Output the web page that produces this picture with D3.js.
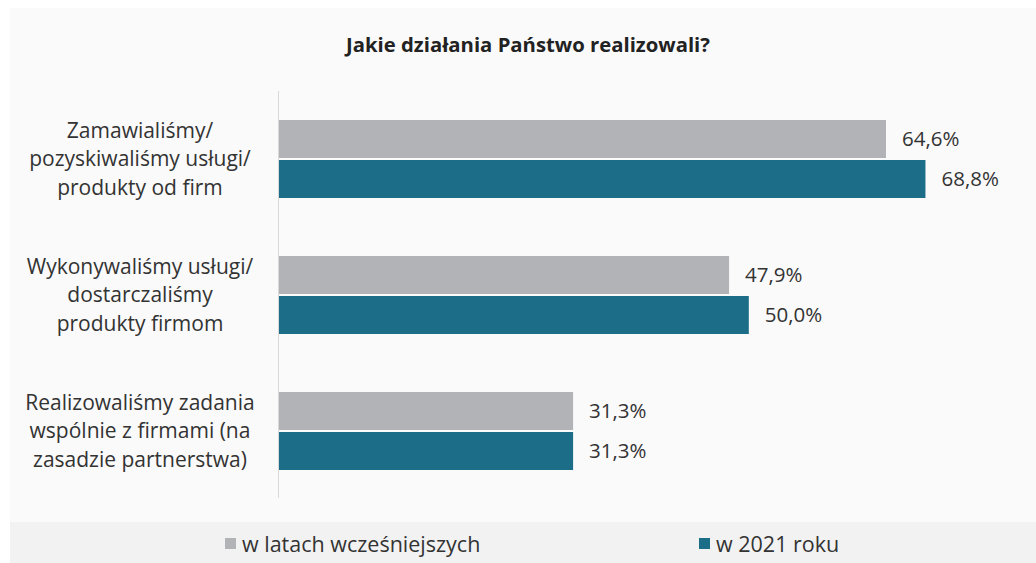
<!DOCTYPE html>
<html><head><meta charset="utf-8">
<script src="https://cdn.jsdelivr.net/npm/d3@7"></script>
<style>html,body{margin:0;padding:0;background:#fff;}svg{display:block;}</style>
</head><body>
<script>
const title = "Jakie działania Państwo realizowali?";
const categories = [
  ["Zamawialiśmy/", "pozyskiwaliśmy usługi/", "produkty od firm"],
  ["Wykonywaliśmy usługi/", "dostarczaliśmy", "produkty firmom"],
  ["Realizowaliśmy zadania", "wspólnie z firmami (na", "zasadzie partnerstwa)"]
];
const seriesNames = ["w latach wcześniejszych", "w 2021 roku"];
const earlier = [64.6, 47.9, 31.3];
const y2021 = [68.8, 50.0, 31.3];
const colors = ["#b2b3b7", "#1b6d88"];

const W = 1036, H = 563;
const svg = d3.select("body").append("svg").attr("width", W).attr("height", H);
svg.append("rect").attr("x",10).attr("y",8).attr("width",W-10).attr("height",514).attr("fill","#fafafa");
svg.append("rect").attr("x",10).attr("y",522).attr("width",W-10).attr("height",H-522).attr("fill","#f2f2f2");

const font = "'Open Sans', sans-serif";
svg.append("text").attr("x",528).attr("y",52).attr("text-anchor","middle")
  .attr("font-family",font).attr("font-weight","bold").attr("font-size",20.3).attr("fill","#222")
  .text(title);

const idx = d3.range(categories.length);
const x = d3.scaleLinear().domain([0, 70]).range([279, 279 + 70*9.396]);
const y = d3.scaleBand().domain(idx).range([91, 499]).paddingInner(58/136).paddingOuter(29/136);
const ys = d3.scaleBand().domain([0,1]).range([0, y.bandwidth()]).paddingInner(0.05);

const data = [earlier, y2021];
const g = svg.append("g");
idx.forEach(i => {
  data.forEach((vals, s) => {
    const v = vals[i];
    g.append("rect").attr("x", x(0)).attr("y", y(i) + ys(s))
      .attr("width", x(v) - x(0)).attr("height", ys.bandwidth()).attr("fill", colors[s]);
    g.append("text").attr("x", x(v) + 16).attr("y", y(i) + ys(s) + ys.bandwidth()/2)
      .attr("dy","0.35em").attr("font-family",font).attr("font-size",20.5).attr("fill","#333")
      .text(d3.format(".1f")(v).replace(".", ",") + "%");
  });
  const lines = categories[i];
  const cy = y(i) + y.bandwidth()/2;
  const lh = 28.5;
  lines.forEach((ln, k) => {
    g.append("text").attr("x", 140).attr("y", cy + (k - (lines.length-1)/2)*lh)
      .attr("dy","0.35em").attr("text-anchor","middle")
      .attr("font-family",font).attr("font-size",21).attr("fill","#333").text(ln);
  });
});
// axis line
svg.append("line").attr("x1",278.5).attr("x2",278.5).attr("y1",91).attr("y2",498)
  .attr("stroke","#d9d9d9").attr("stroke-width",1);

// legend
const legX = [225, 699];
seriesNames.forEach((n, s) => {
  svg.append("rect").attr("x", legX[s]).attr("y", 538).attr("width", 11).attr("height", 11).attr("fill", colors[s]);
  svg.append("text").attr("x", legX[s] + 17).attr("y", 544).attr("dy","0.35em")
    .attr("font-family",font).attr("font-size",21.5).attr("fill","#333").text(n);
});
</script>
</body></html>
